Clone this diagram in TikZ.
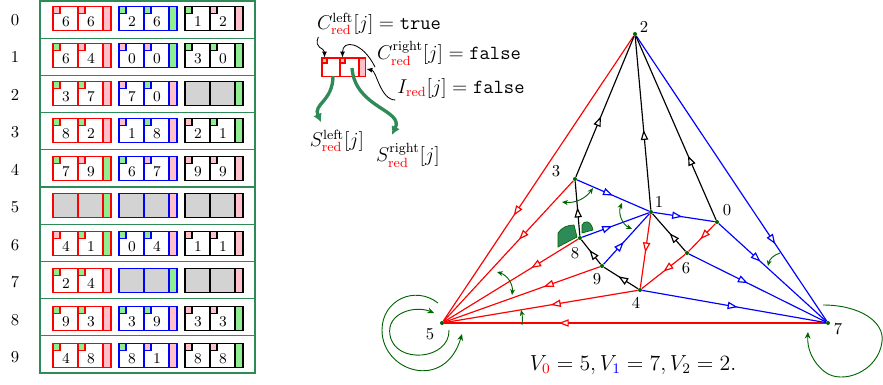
\documentclass[tikz,border=0pt]{standalone}
\usepackage{amsmath,amssymb}
\usepackage{xcolor}
\usepackage{tikz}
\usetikzlibrary{arrows.meta,positioning,calc,decorations.markings}
\definecolor{TreeRed}{RGB}{255,0,0}
\definecolor{TreeBlue}{RGB}{0,0,255}
\definecolor{FlagG}{RGB}{144,238,144}
\definecolor{FlagP}{RGB}{255,192,203}
\definecolor{Blank}{RGB}{211,211,211}
\definecolor{FrameGreen}{RGB}{46,139,87}
\definecolor{DarkGreen}{RGB}{0,100,0}
\newcommand{\rd}[1]{\textcolor{TreeRed}{\mathrm{#1}}}
\tikzset{
  cellline/.style={line width=0.8pt},
  treeedge/.style={line width=0.7pt,
    postaction={decorate,decoration={markings,
      mark=at position #1 with {\arrow{Triangle[length=6pt,width=4.4pt,fill=white,line width=0.7pt]}}}}},
  vdot/.style={circle,fill=DarkGreen,inner sep=0pt,minimum size=2.4pt},
  anglearc/.style={DarkGreen,line width=0.55pt},
  fieldname/.style={font=\large,inner sep=1pt},
}

\begin{document}
\begin{tikzpicture}[x=0.6pt,y=-0.6pt]
  \useasboundingbox (0,0) rectangle (883,385);
  % table of the ten vertices, one row each
  \def\rowh{37.2}  % pitch of the frame lines
  \def\cellh{37.5} % pitch of the cells
  \def\cw{66}      % distance between the three cells
  \draw[FrameGreen,line width=0.7pt] (40,1) rectangle (255,373);
  \foreach \i in {1,...,9}
    \draw[FrameGreen,line width=0.7pt] (40,{1+\rowh*\i}) -- (255,{1+\rowh*\i});
  \foreach \i in {0,...,9}
    \node (row\i) at (15,{19.8+\cellh*\i}) {$\i$};

  % row/column/colour/left flag/left label/right flag/right label/strip
  \foreach \i/\k/\tc/\fa/\na/\fb/\nb/\fs in {
      0/0/TreeRed/P/6/P/6/P, 0/1/TreeBlue/G/2/G/6/G, 0/2/black/G/1/P/2/P,
      1/0/TreeRed/G/6/P/4/P, 1/1/TreeBlue/P/0/P/0/G, 1/2/black/G/3/G/0/G,
      2/0/TreeRed/G/3/G/7/P, 2/1/TreeBlue/P/7/G/0/P,
      3/0/TreeRed/G/8/G/2/P, 3/1/TreeBlue/P/1/G/8/P, 3/2/black/P/2/G/1/G,
      4/0/TreeRed/G/7/P/9/G, 4/1/TreeBlue/G/6/P/7/P, 4/2/black/P/9/P/9/P,
      6/0/TreeRed/P/4/G/1/G, 6/1/TreeBlue/G/0/G/4/P, 6/2/black/P/1/P/1/P,
      7/0/TreeRed/G/2/G/4/P,
      8/0/TreeRed/G/9/G/3/P, 8/1/TreeBlue/G/3/G/9/P, 8/2/black/P/3/P/3/G,
      9/0/TreeRed/G/4/G/8/P, 9/1/TreeBlue/G/8/P/1/P, 9/2/black/P/8/P/8/G}{
    \begin{scope}[shift={({53+\cw*\k},{18.3+\cellh*\i})}]
      \fill[Flag\fs] (50,-12) rectangle (58,12);
      \filldraw[fill=Flag\fa,draw=\tc,cellline] (0,-12) rectangle (7,-5);
      \filldraw[fill=Flag\fb,draw=\tc,cellline] (25,-12) rectangle (32,-5);
      \draw[\tc,cellline] (0,-12) rectangle (58,12) (25,-12) -- (25,12) (50,-12) -- (50,12);
      \node[font=\small] (n\i\k-l) at (13,3) {$\na$};
      \node[font=\small] (n\i\k-r) at (38,3) {$\nb$};
    \end{scope}
  }
  % empty cells
  \foreach \i/\k/\tc/\fs in {2/2/black/G, 5/0/TreeRed/G, 5/1/TreeBlue/P,
                             5/2/black/P, 7/1/TreeBlue/G, 7/2/black/P}{
    \begin{scope}[shift={({53+\cw*\k},{18.3+\cellh*\i})}]
      \fill[Blank] (0,-12) rectangle (50,12);
      \fill[Flag\fs] (50,-12) rectangle (58,12);
      \draw[\tc,cellline] (0,-12) rectangle (58,12) (25,-12) -- (25,12) (50,-12) -- (50,12);
    \end{scope}
  }

  % legend: a single red cell and its fields
  \begin{scope}[shift={(322,58)}]
    \fill[FlagP] (37,0) rectangle (43.5,18.5);
    \filldraw[fill=FlagG,draw=TreeRed,cellline] (0,0) rectangle (5,5);
    \filldraw[fill=FlagP,draw=TreeRed,cellline] (18,0) rectangle (23,5);
    \draw[TreeRed,cellline] (0,0) rectangle (43.5,18.5) (18,0) -- (18,18.5) (37,0) -- (37,18.5);
    \coordinate (fl) at (2.5,-0.5);
    \coordinate (fr) at (20.5,-0.5);
    \coordinate (ist) at (44.5,11);
    \coordinate (sl) at (11,18);
    \coordinate (sr) at (30,10);
  \end{scope}
  \node[fieldname] (cleft) at (379,24) {$C^{\mathrm{left}}_{\rd{red}}[j]=\texttt{true}$};
  \node[fieldname] (cright) at (449,53) {$C^{\mathrm{right}}_{\rd{red}}[j]=\texttt{false}$};
  \node[fieldname] (iflag) at (461,88) {$I_{\rd{red}}[j]=\texttt{false}$};
  \node[fieldname] (sleft) at (337,141) {$S^{\mathrm{left}}_{\rd{red}}[j]$};
  \node[fieldname] (sright) at (408,155) {$S^{\mathrm{right}}_{\rd{red}}[j]$};
  \draw[-{Latex[length=3.5pt,width=3pt]},line width=0.5pt]
    ([xshift=2pt]cleft.south west) .. controls +(-5,12) and +(0,-10) .. (fl);
  \draw[-{Latex[length=3.5pt,width=3pt]},line width=0.5pt]
    (cright.south west) .. controls +(-13,-26) and +(0,-18) .. (fr);
  \draw[-{Latex[length=3.5pt,width=3pt]},line width=0.5pt]
    (iflag.south west) .. controls +(-15,0) and +(10,2) .. (ist);
  \draw[FrameGreen,line width=2pt,-{Latex[length=5pt,width=5.5pt]}]
    (sl) .. controls +(0,25) and +(-8,-18) .. ([shift={(-16,-6)}]sleft.north);
  \draw[FrameGreen,line width=2pt,-{Latex[length=5pt,width=5.5pt]}]
    (sr) .. controls +(3,40) and +(12,-25) .. ([shift={(-16,-6)}]sright.north);

  % vertices of the triangulation
  \foreach \v/\x/\y/\lx/\ly in {0/717/222/727/210, 1/651/212/659/202, 2/635/34/644/27,
      3/575/179/556/171, 4/640/290/636/303, 5/442/323/430/334, 6/687/253/686/268,
      7/828/323/838/329, 8/580/238/575/253, 9/602/266/597/279}{
    \node[vdot] (v\v) at (\x,\y) {};
    \node (l\v) at (\lx,\ly) {$\v$};
  }
  % red tree, towards V0
  \foreach \s/\t/\p in {2/5/0.63, 3/5/0.42, 8/5/0.35, 9/5/0.36, 4/5/0.45,
                        7/5/0.70, 1/4/0.52, 0/6/0.56, 6/4/0.50}
    \draw[TreeRed,treeedge=\p] (v\s) -- (v\t);
  % blue tree, towards V1
  \foreach \s/\t/\p in {2/7/0.73, 0/7/0.39, 6/7/0.43, 4/7/0.52,
                        3/1/0.50, 1/0/0.47, 8/1/0.45, 9/1/0.44}
    \draw[TreeBlue,treeedge=\p] (v\s) -- (v\t);
  % black tree, towards V2
  \foreach \s/\t/\p in {3/2/0.43, 1/2/0.46, 0/2/0.35, 8/3/0.52,
                        9/8/0.58, 4/9/0.58, 6/1/0.48}
    \draw[black,treeedge=\p] (v\s) -- (v\t);

  % angles and the marked face at 8
  \draw[anglearc,{Stealth[length=3.5pt,width=3pt]}-{Stealth[length=3.5pt,width=3pt]}]
    (562,202) to[bend right=30] (593,188);
  \draw[anglearc,{Stealth[length=3.5pt,width=3pt]}-{Stealth[length=3.5pt,width=3pt]}]
    (622,203) to[bend right=44] (632,229);
  \draw[anglearc,{Stealth[length=3.5pt,width=3pt]}-{Stealth[length=3.5pt,width=3pt]}]
    (497,272) to[bend left=40] (512,295);
  \draw[anglearc,-{Stealth[length=3.5pt,width=3pt]}] (522,325) to[bend right=10] (521,310);
  \draw[anglearc,-{Stealth[length=3.5pt,width=3pt]}] (780,253) to[bend right=30] (768,266);
  \filldraw[fill=FrameGreen,draw=DarkGreen,line width=0.4pt]
    (558,247) -- (558,233) .. controls (562,227) and (568,225) .. (574,225) -- (577,237) -- cycle;
  \filldraw[fill=FrameGreen,draw=DarkGreen,line width=0.4pt]
    (582,233) -- (582,225) .. controls (584,220) and (591,220) .. (593,230) -- cycle;

  % loops at the outer vertices
  \draw[anglearc,-{Stealth[length=4pt,width=3.5pt]}]
    (438,303) .. controls (415,285) and (382,300) .. (382,330)
              .. controls (382,372) and (445,392) .. (462,334);
  \draw[anglearc,-{Stealth[length=4pt,width=3.5pt]}]
    (449,330) .. controls (450,360) and (395,365) .. (390,335)
              .. controls (386,313) and (415,305) .. (434,313);
  \draw[anglearc,-{Stealth[length=4pt,width=3.5pt]}]
    (823,305) .. controls (860,305) and (885,322) .. (882,342)
              .. controls (878,372) and (842,385) .. (825,372)
              .. controls (812,362) and (807,348) .. (808,332);

  \node[font=\large,scale=1.09,transform shape] (eq) at (633,365)
    {$V_{\textcolor{TreeRed}{0}}=5, V_{\textcolor{TreeBlue}{1}}=7, V_2=2.$};
\end{tikzpicture}
\end{document}
